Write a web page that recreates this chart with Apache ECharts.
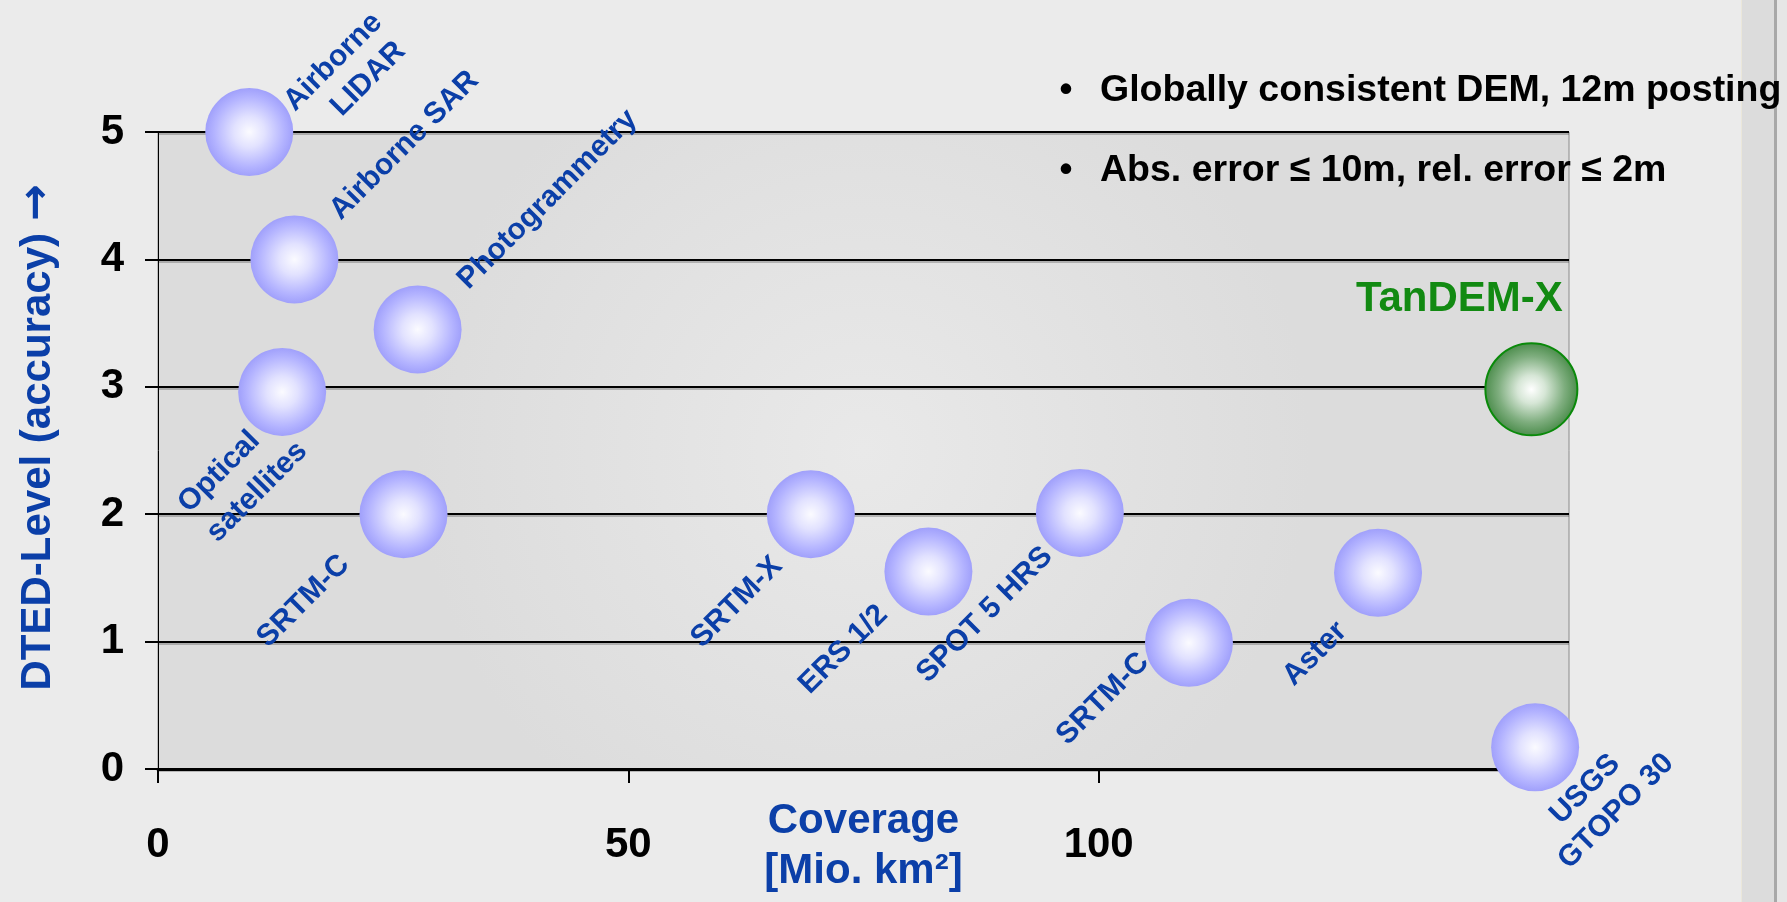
<!DOCTYPE html>
<html>
<head>
<meta charset="utf-8">
<script src="https://cdn.jsdelivr.net/npm/echarts@6/dist/echarts.min.js"></script>
<style>
  html, body { margin: 0; padding: 0; background: #ebebeb; }
  #chart { width: 1787px; height: 902px; }
</style>
</head>
<body>
<div id="chart"></div>
<script>
// DEM sources: name, coverage [Mio. km²], DTED level
const demNames = ['Airborne\nLIDAR', 'Airborne SAR', 'Photogrammetry', 'Optical\nsatellites', 'SRTM-C', 'SRTM-X', 'ERS 1/2', 'SPOT 5 HRS', 'SRTM-C', 'Aster', 'USGS\nGTOPO 30']
const demCoverage = [9.7, 14.5, 27.6, 13.2, 26.1, 69.4, 81.9, 98.0, 109.6, 129.7, 146.4]
const demLevel = [5.0, 4.0, 3.45, 2.96, 2.0, 2.0, 1.55, 2.01, 0.99, 1.54, 0.17]

const tandemName = ['TanDEM-X']
const tandemCoverage = [146.0]
const tandemLevel = [2.98]

const xTicks = [0, 50, 100]
const bullets = ['Globally consistent DEM, 12m posting', 'Abs. error \u2264 10m, rel. error \u2264 2m']

// label line centres relative to the bubble centre (px), one entry per text line
const labelOffsets = [
  [[84, -70], [119, -53]],
  [[110, -114]],
  [[130, -130]],
  [[-63, 80], [-25, 100]],
  [[-100, 87]],
  [[-74, 88]],
  [[-85, 78]],
  [[-95, 102]],
  [[-86, 56]],
  [[-63, 81]],
  [[50, 42], [81, 64]],
]

const FONT = '"Liberation Sans", Arial, sans-serif'
const BLUE = '#0b3fa8'

const blueFill = {
  type: 'radial', x: 0.5, y: 0.5, r: 0.5,
  colorStops: [
    { offset: 0, color: '#fbfbff' },
    { offset: 0.35, color: '#e2e2ff' },
    { offset: 0.8, color: '#b3b3ff' },
    { offset: 1, color: '#a0a0fb' },
  ],
}
const greenFill = {
  type: 'radial', x: 0.5, y: 0.5, r: 0.5,
  colorStops: [
    { offset: 0, color: '#ffffff' },
    { offset: 0.3, color: '#d6e6d6' },
    { offset: 0.7, color: '#7fae7f' },
    { offset: 1, color: '#4b8c4b' },
  ],
}

const bubbleItem = (names, offsets, fill, stroke, radius, textOpt) => (params, api) => {
  const i = params.dataIndex
  const p = api.coord([api.value(0), api.value(1)])
  const lines = names[i].split('\n')
  const children = [{
    type: 'circle',
    shape: { cx: p[0], cy: p[1], r: radius },
    style: { fill: fill, stroke: stroke, lineWidth: stroke ? 2 : 0 },
  }]
  lines.forEach((t, k) => {
    const off = offsets[i][k]
    children.push({
      type: 'text',
      x: p[0] + off[0],
      y: p[1] + off[1],
      rotation: textOpt.rotation,
      style: {
        text: t,
        fill: textOpt.color,
        fontFamily: FONT,
        fontWeight: 'bold',
        fontSize: textOpt.size,
        align: 'center',
        verticalAlign: 'middle',
      },
    })
  })
  return { type: 'group', children: children }
}

const chart = echarts.init(document.getElementById('chart'))

const option = {
  backgroundColor: '#ebebeb',
  animation: false,
  grid: {
    left: 158, right: 218, top: 132, bottom: 133,
    outerBoundsMode: 'none',
    containLabel: false,
    show: true,
    backgroundColor: {
      type: 'radial', x: 0.5, y: 0.5, r: 0.7,
      colorStops: [
        { offset: 0, color: '#e9e9e9' },
        { offset: 1, color: '#dcdcdc' },
      ],
    },
    borderColor: '#8c8c8c',
    borderWidth: 1,
  },
  xAxis: {
    type: 'value',
    min: 0, max: 150, interval: 50,
    name: 'Coverage\n[Mio. km²]',
    nameLocation: 'middle',
    nameGap: 27,
    nameMoveOverlap: false,
    nameTextStyle: { color: BLUE, fontFamily: FONT, fontWeight: 'bold', fontSize: 42, lineHeight: 50 },
    axisLine: { onZero: false, lineStyle: { color: '#000', width: 3 } },
    axisTick: { customValues: xTicks, length: 14, lineStyle: { color: '#000', width: 2 } },
    axisLabel: { customValues: xTicks, margin: 55, color: '#000', fontFamily: FONT, fontWeight: 'bold', fontSize: 42 },
    splitLine: { show: false },
  },
  yAxis: {
    type: 'value',
    min: 0, max: 5, interval: 1,
    name: 'DTED-Level (accuracy) {a|\u2192}',
    nameLocation: 'middle',
    nameRotate: 90,
    nameGap: 98,
    nameMoveOverlap: false,
    nameTextStyle: {
      color: BLUE, fontFamily: FONT, fontWeight: 'bold', fontSize: 42, padding: [0, 0, 0, 26],
      rich: { a: { color: BLUE, fontFamily: '"DejaVu Sans"', fontWeight: 'bold', fontSize: 44 } },
    },
    axisLine: { show: true, lineStyle: { color: '#000', width: 1 } },
    axisTick: { show: true, length: 13, lineStyle: { color: '#000', width: 2 } },
    axisLabel: { margin: 34, color: '#000', fontFamily: FONT, fontWeight: 'bold', fontSize: 42 },
    splitLine: {
      show: true,
      lineStyle: { color: '#000', width: 2, shadowColor: 'rgba(0,0,0,0.22)', shadowOffsetY: 2, shadowBlur: 0 },
    },
  },
  graphic: [
    // slide edge strip on the right
    { type: 'rect', z: -10, shape: { x: 1741, y: 0, width: 34, height: 902 }, style: { fill: '#dcdcdc' } },
    { type: 'rect', z: -10, shape: { x: 1741, y: 0, width: 1, height: 902 }, style: { fill: '#ebe7da' } },
    { type: 'rect', z: -10, shape: { x: 1774, y: 0, width: 3, height: 902 }, style: { fill: '#a8a8a8' } },
    { type: 'rect', z: -10, shape: { x: 1777, y: 0, width: 10, height: 902 }, style: { fill: '#e6e6e6' } },
    ...bullets.flatMap((t, i) => [
      { type: 'text', z: 100, x: 1066, y: 91 + i * 80, style: { text: '\u2022', fill: '#000', fontFamily: FONT, fontWeight: 'bold', fontSize: 37, align: 'center', verticalAlign: 'middle' } },
      { type: 'text', z: 100, x: 1100, y: 91 + i * 80, style: { text: t, fill: '#000', fontFamily: FONT, fontWeight: 'bold', fontSize: 37.5, align: 'left', verticalAlign: 'middle' } },
    ]),
  ],
  series: [
    {
      name: 'DEM',
      type: 'custom',
      clip: false,
      z: 5,
      data: demCoverage.map((x, i) => [x, demLevel[i]]),
      renderItem: bubbleItem(demNames, labelOffsets, blueFill, null, 44, { rotation: Math.PI / 4, color: BLUE, size: 30 }),
    },
    {
      name: 'TanDEM-X',
      type: 'custom',
      clip: false,
      z: 6,
      data: tandemCoverage.map((x, i) => [x, tandemLevel[i]]),
      renderItem: bubbleItem(tandemName, [[[-72, -90]]], greenFill, '#0a8a0a', 46, { rotation: 0, color: '#128a12', size: 42 }),
    },
  ],
}

chart.setOption(option)
</script>
</body>
</html>
